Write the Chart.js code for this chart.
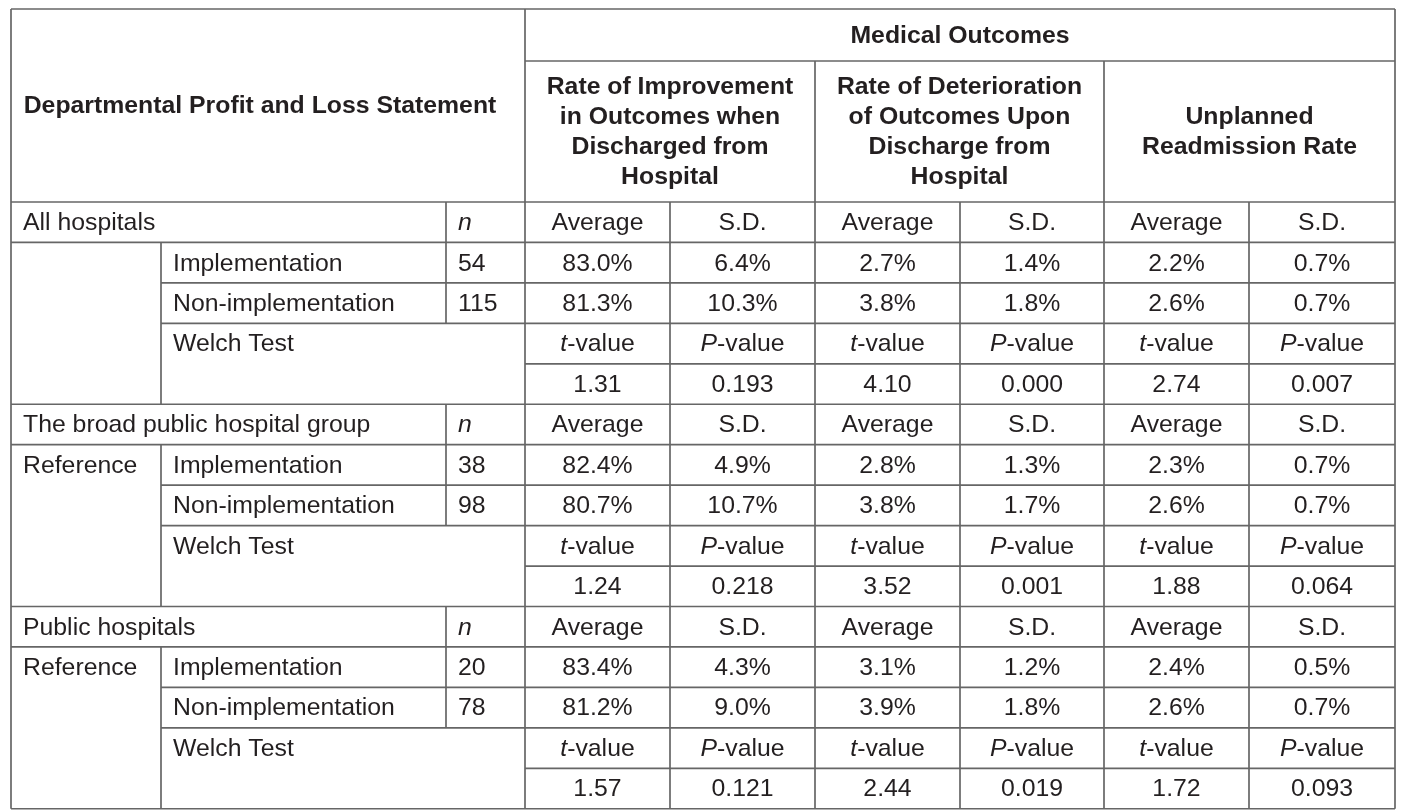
<!DOCTYPE html>
<html>
<head>
<meta charset="utf-8">
<script src="https://cdn.jsdelivr.net/npm/chart.js@4"></script>
<style>
  body { margin: 0; background: #ffffff; }
  canvas { display: block; }
</style>
</head>
<body>
<canvas id="tabela" width="1415" height="811"></canvas>
<script>
// dados da tabela
var grupos = ['All hospitals', 'The broad public hospital group', 'Public hospitals'];
var rotuloLado = ['', 'Reference', 'Reference'];
var bracos = ['Implementation', 'Non-implementation'];
var nImpl = [54, 38, 20];
var nNao = [115, 98, 78];
var desfechos = [
    ['Rate of Improvement', 'in Outcomes when', 'Discharged from', 'Hospital'],
    ['Rate of Deterioration', 'of Outcomes Upon', 'Discharge from', 'Hospital'],
    ['Unplanned', 'Readmission Rate']
];
var mediaImpl = [[83.0, 2.7, 2.2], [82.4, 2.8, 2.3], [83.4, 3.1, 2.4]];
var dpImpl = [[6.4, 1.4, 0.7], [4.9, 1.3, 0.7], [4.3, 1.2, 0.5]];
var mediaNao = [[81.3, 3.8, 2.6], [80.7, 3.8, 2.6], [81.2, 3.9, 2.6]];
var dpNao = [[10.3, 1.8, 0.7], [10.7, 1.7, 0.7], [9.0, 1.8, 0.7]];
var valorT = [[1.31, 4.10, 2.74], [1.24, 3.52, 1.88], [1.57, 2.44, 1.72]];
var valorP = [[0.193, 0.000, 0.007], [0.218, 0.001, 0.064], [0.121, 0.019, 0.093]];

// layout (bordas das colunas e linhas)
var cols = [11, 161, 446, 525, 670, 815, 960, 1104, 1249, 1395];
var topoCab = 9, meioCab = 61, baseCab = 202, altLinha = 40.45;

var corLinha = '#666666';
var corTexto = '#231f20';
var fonte = '"Liberation Sans", Arial, sans-serif';
var tam = '24.8px ';

var desenharTabela = {
    id: 'desenharTabela',
    afterDraw: function (chart) {
        var ctx = chart.ctx;
        var sx = chart.scales.x, sy = chart.scales.y;
        function px(v) { return sx.getPixelForValue(v); }
        function py(v) { return sy.getPixelForValue(v); }
        var L = cols[0], R = cols[9];
        var fundo = baseCab + grupos.length * 5 * altLinha;

        ctx.save();
        ctx.strokeStyle = corLinha;
        ctx.lineWidth = 1.7;
        function hline(y, x0, x1) {
            ctx.beginPath(); ctx.moveTo(px(x0), py(y)); ctx.lineTo(px(x1), py(y)); ctx.stroke();
        }
        function vline(x, y0, y1) {
            ctx.beginPath(); ctx.moveTo(px(x), py(y0)); ctx.lineTo(px(x), py(y1)); ctx.stroke();
        }
        function texto(t, x, y, alinhar, peso) {
            ctx.font = (peso || 'normal') + ' ' + tam + fonte;
            ctx.fillStyle = corTexto;
            ctx.textAlign = alinhar;
            ctx.textBaseline = 'middle';
            ctx.fillText(t, px(x), py(y) + 1);
        }
        // texto com primeira letra em italico (t-value, P-value)
        function textoItalico(ital, resto, xc, y) {
            ctx.font = 'italic ' + tam + fonte;
            var w1 = ctx.measureText(ital).width;
            ctx.font = tam + fonte;
            var w2 = ctx.measureText(resto).width;
            var x0 = px(xc) - (w1 + w2) / 2;
            ctx.fillStyle = corTexto;
            ctx.textAlign = 'left';
            ctx.textBaseline = 'middle';
            ctx.font = 'italic ' + tam + fonte;
            ctx.fillText(ital, x0, py(y) + 1);
            ctx.font = tam + fonte;
            ctx.fillText(resto, x0 + w1, py(y) + 1);
        }

        // cabecalho
        hline(topoCab, L, R);
        hline(meioCab, cols[3], R);
        vline(L, topoCab, fundo);
        vline(R, topoCab, fundo);
        vline(cols[3], topoCab, fundo);
        vline(cols[5], meioCab, fundo);
        vline(cols[7], meioCab, fundo);
        [4, 6, 8].forEach(function (c) { vline(cols[c], baseCab, fundo); });

        texto('Departmental Profit and Loss Statement', (L + cols[3]) / 2 - 8, (topoCab + baseCab) / 2, 'center', 'bold');
        texto('Medical Outcomes', (cols[3] + R) / 2, (topoCab + meioCab) / 2, 'center', 'bold');
        desfechos.forEach(function (linhas, k) {
            var xc = (cols[3 + 2 * k] + cols[5 + 2 * k]) / 2;
            var yc = (meioCab + baseCab) / 2;
            linhas.forEach(function (l, i) {
                texto(l, xc, yc + (i - (linhas.length - 1) / 2) * 30, 'center', 'bold');
            });
        });

        // grupos
        grupos.forEach(function (g, gi) {
            var topo = baseCab + gi * 5 * altLinha;
            function yl(r) { return topo + r * altLinha; }
            function ym(r) { return topo + (r + 0.5) * altLinha; }
            hline(yl(0), L, R);
            hline(yl(1), L, R);
            hline(yl(2), cols[1], R);
            hline(yl(3), cols[1], R);
            hline(yl(4), cols[3], R);
            vline(cols[1], yl(1), yl(5));
            vline(cols[2], yl(0), yl(3));

            texto(g, L + 12, ym(0), 'left');
            ctx.font = 'italic ' + tam + fonte;
            textoItalico('n', '', cols[2] + 12 + ctx.measureText('n').width / 2, ym(0));
            if (rotuloLado[gi]) texto(rotuloLado[gi], L + 12, ym(1), 'left');
            texto(bracos[0], cols[1] + 12, ym(1), 'left');
            texto(bracos[1], cols[1] + 12, ym(2), 'left');
            texto(String(nImpl[gi]), cols[2] + 12, ym(1), 'left');
            texto(String(nNao[gi]), cols[2] + 12, ym(2), 'left');
            texto('Welch Test', cols[1] + 12, ym(3), 'left');

            for (var k = 0; k < 3; k++) {
                var xa = (cols[3 + 2 * k] + cols[4 + 2 * k]) / 2;
                var xb = (cols[4 + 2 * k] + cols[5 + 2 * k]) / 2;
                texto('Average', xa, ym(0), 'center');
                texto('S.D.', xb, ym(0), 'center');
                texto(mediaImpl[gi][k].toFixed(1) + '%', xa, ym(1), 'center');
                texto(dpImpl[gi][k].toFixed(1) + '%', xb, ym(1), 'center');
                texto(mediaNao[gi][k].toFixed(1) + '%', xa, ym(2), 'center');
                texto(dpNao[gi][k].toFixed(1) + '%', xb, ym(2), 'center');
                textoItalico('t', '-value', xa, ym(3));
                textoItalico('P', '-value', xb, ym(3));
                texto(valorT[gi][k].toFixed(2), xa, ym(4), 'center');
                texto(valorP[gi][k].toFixed(3), xb, ym(4), 'center');
            }
        });
        hline(fundo, L, R);
        ctx.restore();
    }
};

var grafico = document.getElementById('tabela').getContext('2d');
var criarGrafico = new Chart(grafico, {
    type: 'scatter',
    data: { datasets: [{ data: [] }] },
    options: {
        responsive: false,
        animation: false,
        devicePixelRatio: 1,
        layout: { padding: 0 },
        plugins: { legend: { display: false }, tooltip: { enabled: false } },
        scales: {
            x: { type: 'linear', min: 0, max: 1415, display: false },
            y: { type: 'linear', min: 0, max: 811, reverse: true, display: false }
        }
    },
    plugins: [desenharTabela]
});
</script>
</body>
</html>
